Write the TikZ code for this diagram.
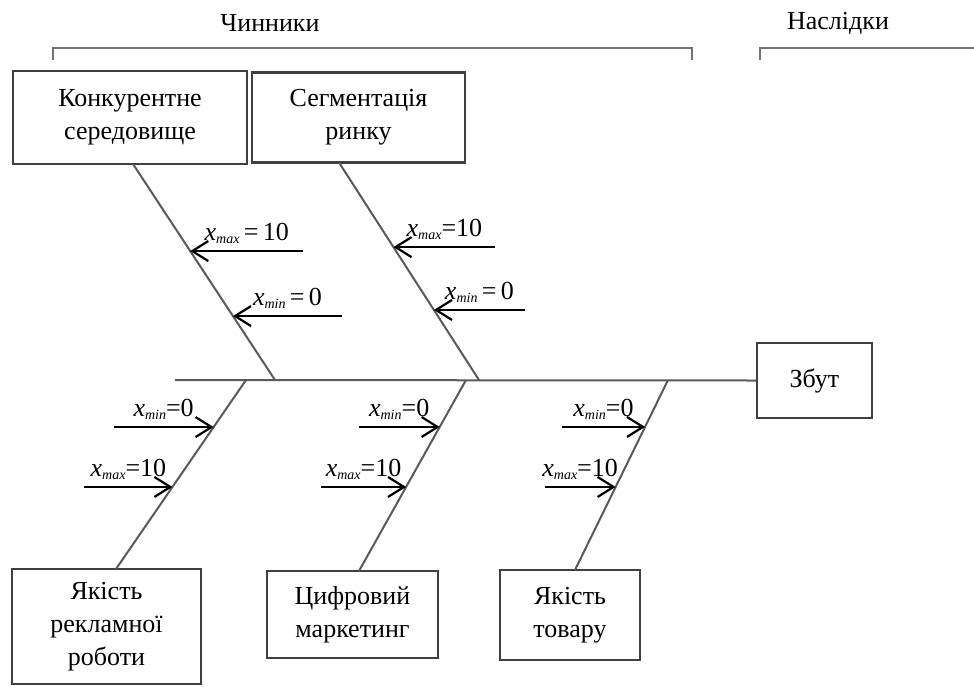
\documentclass[tikz,border=0pt]{standalone}
\usepackage{fontspec}
\setmainfont{Liberation Serif}
\usetikzlibrary{arrows.meta,calc}
\newcommand{\xval}[2]{\textit{x}\raisebox{-0.25ex}{\fontsize{7}{8}\selectfont\textit{#1}}#2}

\begin{document}
\begin{tikzpicture}[x=0.5pt, y=-0.5pt, font=\fontsize{13}{16.5}\selectfont,
    box/.style={draw=black!75, line width=1.2pt, align=center, inner sep=0pt},
    bone/.style={draw=black!65, line width=1pt},
    brk/.style={draw=black!55, line width=1pt},
    val/.style={-{Straight Barb[length=8pt,width=10pt]}, line width=1.1pt},
    lbl/.style={above, inner sep=3pt}]
        \useasboundingbox (0,0) rectangle (974,686);

        \node (Factors) at (270,23) {Чинники};
        \node (Effects) at (838,23) {Наслідки};
        \draw[brk] (53,60) -- (53,48) -- (692,48) -- (692,60);
        \draw[brk] (760,60) -- (760,48) -- (974,48);

        \node[box, minimum width=117pt, minimum height=46.5pt] (Konk) at (130,117.5) {Конкурентне\\середовище};
        \node[box, minimum width=106.5pt, minimum height=45pt] (Segm) at (358.5,117.5) {Сегментація\\ринку};
        \node[box, minimum width=57.5pt, minimum height=37.5pt] (Zbut) at (814.5,380.5) {Збут};
        \node[box, minimum width=94.5pt, minimum height=57.5pt] (Rekl) at (106.5,626.5) {Якість\\рекламної\\роботи};
        \node[box, minimum width=85.5pt, minimum height=43.5pt] (Cyfr) at (352.5,614.5) {Цифровий\\маркетинг};
        \node[box, minimum width=70pt, minimum height=45pt] (Tovar) at (570,615) {Якість\\товару};

        \coordinate (Tail) at (175,380);
        \coordinate (J1) at (275,380);
        \coordinate (J2) at (479,380);
        \coordinate (J3) at (246,380);
        \coordinate (J4) at (466,380);
        \coordinate (J5) at (668,380);
        \coordinate (B1) at (133,164);
        \coordinate (B2) at (339,162.5);
        \coordinate (B3) at (116,569);
        \coordinate (B4) at (359,571);
        \coordinate (B5) at (575,570);

        \draw[bone] (Tail) -- (Zbut.west);
        \draw[bone] (B1) -- (J1);
        \draw[bone] (B2) -- (J2);
        \draw[bone] (J3) -- (B3);
        \draw[bone] (J4) -- (B4);
        \draw[bone] (J5) -- (B5);

        \foreach \id/\from/\to/\t/\len/\txt in {
            a/B1/J1/0.403/113/{\xval{max}{\,=\,10}},
            b/B1/J1/0.704/109/{\xval{min}{\,=\,0}},
            c/B2/J2/0.389/102/{\xval{max}{=10}},
            d/B2/J2/0.678/91/{\xval{min}{\,=\,0}},
            e/J3/B3/0.249/-100/{\xval{min}{=0}},
            f/J3/B3/0.566/-88/{\xval{max}{=10}},
            g/J4/B4/0.246/-81/{\xval{min}{=0}},
            h/J4/B4/0.560/-85/{\xval{max}{=10}},
            i/J5/B5/0.247/-83/{\xval{min}{=0}},
            k/J5/B5/0.563/-71/{\xval{max}{=10}}}
        {
            \coordinate (\id tip) at ($(\from)!\t!(\to)$);
            \coordinate (\id tail) at ($(\id tip)+(\len,0)$);
            \draw[val] (\id tail) -- node[lbl] {\txt} (\id tip);
        }
    \end{tikzpicture}
\end{document}
